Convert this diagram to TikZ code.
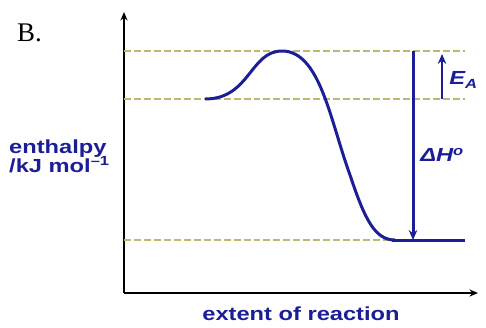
\documentclass[tikz,border=0pt]{standalone}
\usepackage{fontspec}
\setmainfont{Liberation Serif}
\setsansfont{Liberation Sans}
\usetikzlibrary{positioning,arrows.meta}
\definecolor{inkblue}{RGB}{28,30,150}

\tikzset{
  axis/.style={line width=2.4pt,black,-{Stealth[length=3mm,width=2.5mm]}},
  guide/.style={gray!60!yellow,line width=1.6pt,dash pattern=on 7pt off 3pt},
  lbl/.style={font=\sffamily\bfseries\fontsize{19}{21}\selectfont,text=inkblue,inner sep=0pt,xscale=1.25}
}

\begin{document}
\begin{tikzpicture}[x=1bp,y=-1bp,>={Stealth[length=3.5mm,width=3mm]}]
\useasboundingbox (0,0) rectangle (486,327);
% axes
\coordinate (o) at (124,293);
\coordinate (ytop) at (124,12);
\coordinate (xend) at (478,293);
\draw[axis] (o) -- (ytop);
\draw[axis] (o) -- (xend);
% levels
\coordinate (ts) at (124,51);
\coordinate (react) at (124,99);
\coordinate (prod) at (124,240);
\draw[guide] (ts) -- (465,51);
\draw[guide] (react) -- (465,99);
\draw[guide] (prod) -- (395,240);
\draw[inkblue,line width=3pt] (392,240) -- (465,240);
% profile
\draw[inkblue,line width=3pt] (205,99) .. controls (250,99) and (250,51) .. (282,51)
  .. controls (320,51) and (330,120) .. (350,175) .. controls (365,220) and (375,240) .. (395,240);
% arrows
\draw[inkblue,line width=3pt,->] (413,51) -- (413,240);
\draw[inkblue,line width=2.4pt,->] (442,99) -- (442,54);
\node[lbl,anchor=west] (ea) at (449,80) {\itshape E\textsubscript{A}};
\node[lbl,anchor=west] (dh) at (420,155) {\itshape ΔH\textsuperscript{o}};
% labels
\node[font=\fontsize{27}{29}\selectfont,anchor=west,inner sep=0pt] (part) at (17,33) {B.};
\node[lbl,align=left,anchor=west] (ylab) at (9,156) {enthalpy\\[-2pt]/kJ mol\textsuperscript{--1}};
\node[lbl] (xlab) at (301,314) {extent of reaction};
\end{tikzpicture}
\end{document}
